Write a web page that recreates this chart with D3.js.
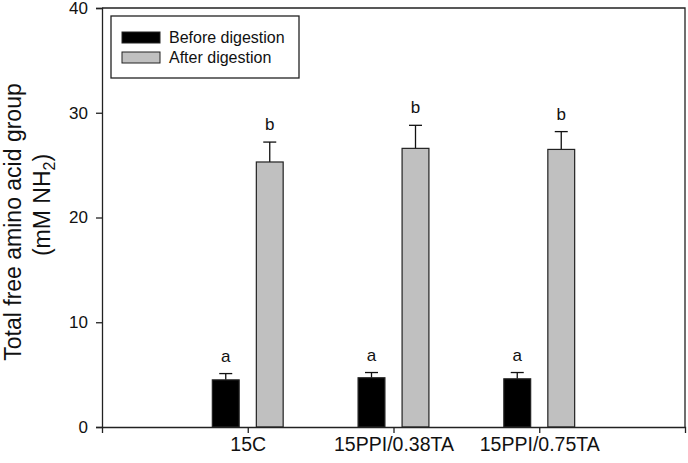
<!DOCTYPE html>
<html>
<head>
<meta charset="utf-8">
<script src="https://cdn.jsdelivr.net/npm/d3@7"></script>
<style>
  body { margin: 0; background: #fff; }
  svg { display: block; font-family: "Liberation Sans", Arial, sans-serif; }
</style>
</head>
<body>
<div id="wrapper"></div>
<script>
// chart data
const categories = ["15C", "15PPI/0.38TA", "15PPI/0.75TA"];
const seriesNames = ["Before digestion", "After digestion"];
const seriesColors = ["#000000", "#c0c0c0"];
const beforeMean = [4.5, 4.7, 4.6];
const beforeErr = [0.6, 0.5, 0.6];
const afterMean = [25.3, 26.6, 26.5];
const afterErr = [1.9, 2.2, 1.7];
const beforeLetters = ["a", "a", "a"];
const afterLetters = ["b", "b", "b"];
const yTicks = [0, 10, 20, 30, 40];

const dimensions = {
  width: 688,
  height: 463,
  margins: { top: 8, right: 3, bottom: 36, left: 102 }
};
dimensions.boundedWidth = dimensions.width - dimensions.margins.left - dimensions.margins.right;
dimensions.boundedHeight = dimensions.height - dimensions.margins.top - dimensions.margins.bottom;

const wrapper = d3.select("#wrapper")
  .append("svg")
  .attr("width", dimensions.width)
  .attr("height", dimensions.height);

const bounds = wrapper.append("g")
  .attr("transform", `translate(${dimensions.margins.left},${dimensions.margins.top})`);

// scales
const xScale = d3.scalePoint()
  .domain(categories)
  .range([0, dimensions.boundedWidth])
  .padding(1);

const subScale = d3.scaleBand()
  .domain(seriesNames)
  .range([-44, 44])
  .paddingInner(0.39)
  .paddingOuter(0.195);

const yScale = d3.scaleLinear()
  .domain([0, 40])
  .range([dimensions.boundedHeight, 0]);

const rows = [];
categories.forEach((c, i) => {
  rows.push({ cat: c, s: seriesNames[0], v: beforeMean[i], e: beforeErr[i], l: beforeLetters[i], col: seriesColors[0] });
  rows.push({ cat: c, s: seriesNames[1], v: afterMean[i], e: afterErr[i], l: afterLetters[i], col: seriesColors[1] });
});

// frame (top and right)
bounds.append("path")
  .attr("d", `M0,0H${dimensions.boundedWidth}V${dimensions.boundedHeight}`)
  .attr("fill", "none")
  .attr("stroke", "#222")
  .attr("stroke-width", 1.3);

// error bars (up only)
const errG = bounds.append("g").attr("stroke", "#111").attr("stroke-width", 1.3);
errG.selectAll("line.stem")
  .data(rows)
  .join("line")
  .attr("x1", d => xScale(d.cat) + subScale(d.s) + subScale.bandwidth() / 2)
  .attr("x2", d => xScale(d.cat) + subScale(d.s) + subScale.bandwidth() / 2)
  .attr("y1", d => yScale(d.v))
  .attr("y2", d => yScale(d.v + d.e));
errG.selectAll("line.cap")
  .data(rows)
  .join("line")
  .attr("x1", d => xScale(d.cat) + subScale(d.s) + subScale.bandwidth() / 2 - 6.5)
  .attr("x2", d => xScale(d.cat) + subScale(d.s) + subScale.bandwidth() / 2 + 6.5)
  .attr("y1", d => yScale(d.v + d.e))
  .attr("y2", d => yScale(d.v + d.e));

// bars
bounds.selectAll("rect.bar")
  .data(rows)
  .join("rect")
  .attr("class", "bar")
  .attr("x", d => xScale(d.cat) + subScale(d.s))
  .attr("width", subScale.bandwidth())
  .attr("y", d => yScale(d.v))
  .attr("height", d => yScale(0) - yScale(d.v))
  .attr("fill", d => d.col)
  .attr("stroke", "#222")
  .attr("stroke-width", 1.2);

// significance letters
bounds.selectAll("text.letter")
  .data(rows)
  .join("text")
  .attr("x", d => xScale(d.cat) + subScale(d.s) + subScale.bandwidth() / 2)
  .attr("y", d => yScale(d.v + d.e) - 12)
  .attr("text-anchor", "middle")
  .style("font-size", "17px")
  .attr("fill", "#111")
  .text(d => d.l);

// axes
const xAxis = bounds.append("g")
  .attr("transform", `translate(0,${dimensions.boundedHeight})`)
  .call(d3.axisBottom(xScale).tickSize(6).tickPadding(4));
xAxis.selectAll("text").style("font-size", "19.5px").attr("fill", "#111");

const yAxis = bounds.append("g")
  .call(d3.axisLeft(yScale).tickValues(yTicks).tickSize(6).tickPadding(8));
yAxis.selectAll("text").style("font-size", "17px").attr("fill", "#111");

[xAxis, yAxis].forEach(a => {
  a.select(".domain").attr("stroke", "#222").attr("stroke-width", 1.3);
  a.selectAll(".tick line").attr("stroke", "#222").attr("stroke-width", 1.3);
});

// y axis title
const yTitle = wrapper.append("text")
  .attr("transform", "translate(21,222) rotate(-90)")
  .attr("text-anchor", "middle")
  .style("font-size", "23px")
  .attr("fill", "#111")
  .text("Total free amino acid group");

const yTitle2 = wrapper.append("text")
  .attr("transform", "translate(50,205) rotate(-90)")
  .attr("text-anchor", "middle")
  .style("font-size", "23px")
  .attr("fill", "#111");
yTitle2.append("tspan").text("(mM NH");
yTitle2.append("tspan").attr("dy", 5).style("font-size", "16px").text("2");
yTitle2.append("tspan").attr("dy", -5).text(")");

// legend
const legend = wrapper.append("g").attr("transform", "translate(111,16)");
legend.append("rect")
  .attr("width", 188)
  .attr("height", 62)
  .attr("fill", "#fff")
  .attr("stroke", "#222")
  .attr("stroke-width", 1.3);
seriesNames.forEach((s, i) => {
  const row = legend.append("g").attr("transform", `translate(11,${16 + i * 20})`);
  row.append("rect")
    .attr("width", 38)
    .attr("height", 11)
    .attr("fill", seriesColors[i])
    .attr("stroke", "#222")
    .attr("stroke-width", 1);
  row.append("text")
    .attr("x", 47)
    .attr("y", 11)
    .style("font-size", "16px")
    .attr("fill", "#111")
    .text(s);
});
</script>
</body>
</html>
